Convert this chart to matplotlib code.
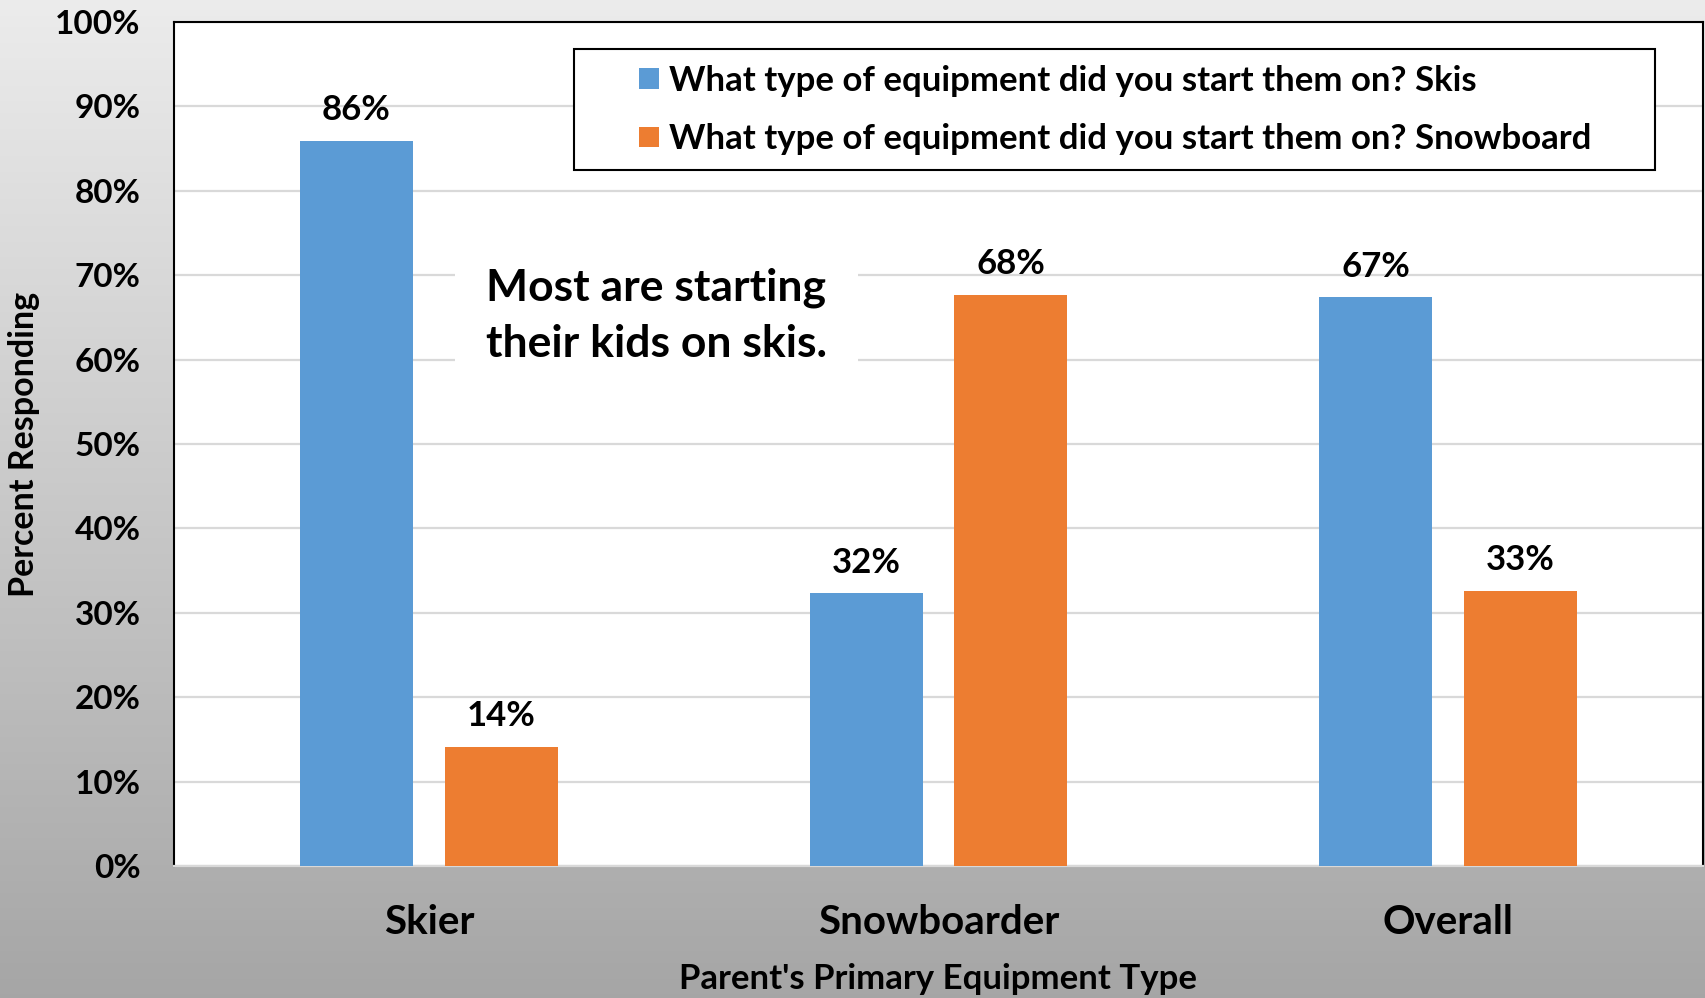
import numpy as np
import matplotlib
matplotlib.use("Agg")
import matplotlib.pyplot as plt
from matplotlib.patches import Patch, Rectangle
from matplotlib.legend_handler import HandlerPatch

plt.rcParams['font.family'] = ['Lato', 'DejaVu Sans']
plt.rcParams['font.weight'] = 'bold'

categories = ["Skier", "Snowboarder", "Overall"]
skis = [85.9, 32.3, 67.4]
snowboard = [14.1, 67.7, 32.6]
series_names = ["What type of equipment did you start them on? Skis",
                "What type of equipment did you start them on? Snowboard"]
y_ticks = [0, 10, 20, 30, 40, 50, 60, 70, 80, 90, 100]
note = "Most are starting\ntheir kids on skis."

BLUE = "#5B9BD5"
ORANGE = "#ED7D31"

W, H = 1706, 998
fig = plt.figure(figsize=(W / 100, H / 100), dpi=100)

# grey vertical gradient behind everything
bg = fig.add_axes([0, 0, 1, 1], zorder=-10)
grad = np.linspace(0.925, 0.65, 256).reshape(-1, 1)
bg.imshow(np.dstack([grad, grad, grad]), aspect="auto", extent=[0, 1, 0, 1])
bg.axis("off")

left, right, top, bottom = 174, 1703, 22, 866
ax = fig.add_axes([left / W, (H - bottom) / H, (right - left) / W, (bottom - top) / H])
ax.set_facecolor("white")

x = np.arange(len(categories))
bw = 0.222
off = 0.142
b1 = ax.bar(x - off, skis, bw, color=BLUE, zorder=3, label=series_names[0])
b2 = ax.bar(x + off, snowboard, bw, color=ORANGE, zorder=3, label=series_names[1])

for bars, vals in ((b1, skis), (b2, snowboard)):
    for rect, v in zip(bars, vals):
        ax.annotate(f"{round(v)}%", (rect.get_x() + rect.get_width() / 2, v),
                    xytext=(0, 10.5), textcoords="offset points",
                    ha="center", va="bottom", fontsize=25, fontweight="bold")

ax.set_xlim(-0.5, 2.5)
ax.set_ylim(0, 100)
ax.set_yticks(y_ticks)
ax.set_yticklabels([f"{t}%" for t in y_ticks], fontsize=24, fontweight="bold")
ax.set_xticks(x)
ax.set_xticklabels(categories, fontsize=29, fontweight="bold")
ax.tick_params(axis="both", length=0)
ax.tick_params(axis="y", pad=24)
ax.tick_params(axis="x", pad=27)
ax.yaxis.grid(True, color="#d9d9d9", linewidth=1.6, zorder=0)
ax.set_axisbelow(True)

for s in ("top", "left", "right"):
    ax.spines[s].set_color("black")
    ax.spines[s].set_linewidth(1.5)
ax.spines["bottom"].set_color("#d9d9d9")
ax.spines["bottom"].set_linewidth(1.6)

ax.set_ylabel("Percent Responding", fontsize=24.5, fontweight="bold")
ax.set_xlabel("Parent's Primary Equipment Type", fontsize=25, fontweight="bold", labelpad=16.5)
ax.yaxis.set_label_coords(-0.0876, 0.5)

ax.text(0.112, 65.2, note, ha="left", va="center", fontsize=32, fontweight="bold",
        linespacing=1.5, zorder=4,
        bbox=dict(facecolor="white", edgecolor="none", pad=22))


def square_handle(legend, orig_handle, xdescent, ydescent, width, height, fontsize):
    side = 0.58 * fontsize
    return Rectangle((-xdescent + width - side, -ydescent + (height - side) / 2),
                     side, side)


handles = [Patch(facecolor=BLUE), Patch(facecolor=ORANGE)]
lx0, lx1, ly0 = 574, 1655, 49
leg = ax.legend(handles, series_names, loc="upper left",
                bbox_to_anchor=((lx0 - left) / (right - left), 1 - (ly0 - top) / (bottom - top),
                                (lx1 - lx0) / (right - left), 0.0),
                mode="expand", frameon=True, fancybox=False,
                edgecolor="black", framealpha=1, borderpad=0.45, labelspacing=0.75,
                handlelength=2.0, handleheight=0.8, handletextpad=0.3,
                borderaxespad=0, prop={"weight": "bold", "size": 25},
                handler_map={Patch: HandlerPatch(patch_func=square_handle)})
leg.get_frame().set_linewidth(1.5)

fig.savefig("out.png", dpi=100)
